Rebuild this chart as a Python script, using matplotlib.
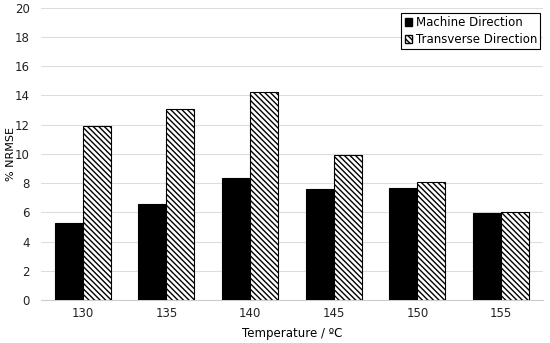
import numpy as np
import matplotlib
matplotlib.use("Agg")
import matplotlib.pyplot as plt
from matplotlib.patches import Patch

# datos
temperaturas = ["130", "135", "140", "145", "150", "155"]
machine = [5.25, 6.55, 8.38, 7.6, 7.65, 5.95]
transverse = [11.9, 13.08, 14.25, 9.95, 8.05, 6.05]

plt.rcParams["hatch.linewidth"] = 1.0
rayado = "\\" * 6

fig = plt.figure(figsize=(5.5, 3.43), dpi=100)
ax = fig.add_axes([0.0745, 0.125, 0.9125, 0.853])

x = np.arange(len(temperaturas))
w = 0.335

ax.bar(x - w/2, machine, w, color="black", edgecolor="black", linewidth=0.8,
       label="Machine Direction", zorder=3)
ax.bar(x + w/2, transverse, w, color="white", edgecolor="black", linewidth=0.8,
       hatch=rayado, label="Transverse Direction", zorder=3)

ax.set_xlim(-0.5, len(temperaturas) - 0.5)
ax.set_ylim(0, 20)
ax.set_yticks(np.arange(0, 21, 2))
ax.set_xticks(x)
ax.set_xticklabels(temperaturas)
ax.tick_params(axis="y", length=0, labelsize=8.5, colors="#222222", pad=8)
ax.tick_params(axis="x", length=0, labelsize=8.5, colors="#222222", pad=5)

ax.grid(axis="y", color="#dddddd", linewidth=0.8, zorder=0)
for s in ["top", "right", "left"]:
    ax.spines[s].set_visible(False)
ax.spines["bottom"].set_color("#cccccc")

ax.set_ylabel("% NRMSE", fontsize=8)
ax.yaxis.set_label_coords(-0.05, 0.5)
ax.set_xlabel("Temperature / ºC", fontsize=8.5, labelpad=5)

handles = [Patch(facecolor="black", edgecolor="black"),
           Patch(facecolor="white", edgecolor="black", hatch=rayado)]
leg = ax.legend(handles, ["Machine Direction", "Transverse Direction"],
                loc="upper right", bbox_to_anchor=(1.0, 0.99), fontsize=8.5,
                fancybox=False, framealpha=1, edgecolor="black",
                handlelength=0.6, handleheight=0.6, handletextpad=0.3,
                borderpad=0.3, labelspacing=0.3, borderaxespad=0.2)
leg.get_frame().set_linewidth(0.8)

fig.savefig("out.png", dpi=100)
